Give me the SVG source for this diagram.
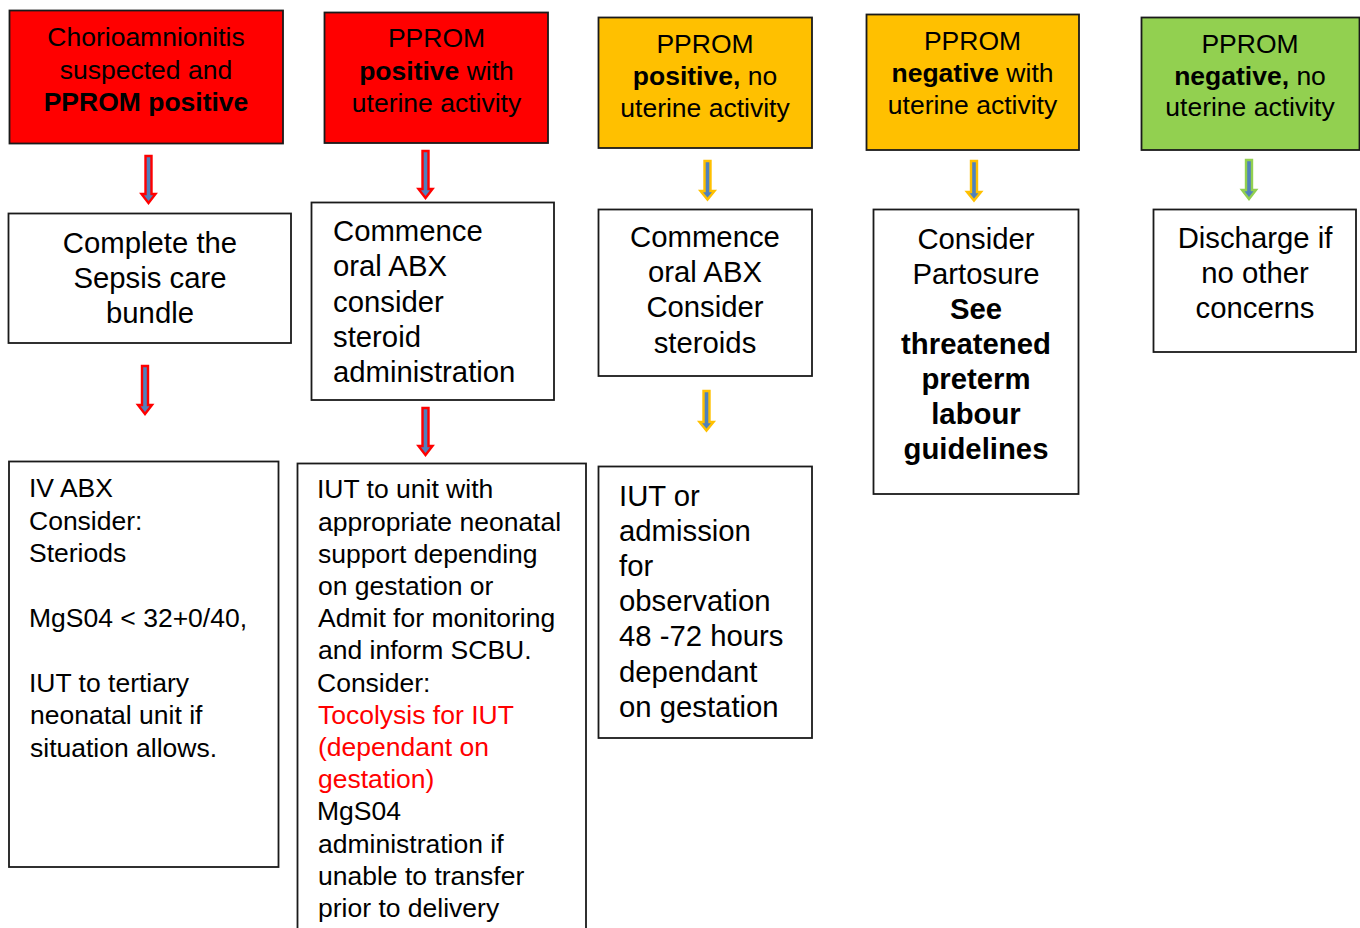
<svg xmlns="http://www.w3.org/2000/svg" width="1360" height="928" viewBox="0 0 1360 928">
<style>
text{font-family:"Liberation Sans",Arial,sans-serif;fill:#000}
.h{font-size:26.5px;text-anchor:middle}
.m{font-size:29.3px}
.c{text-anchor:middle}
.s{font-size:26.5px}
.b{font-weight:bold}
.box{stroke:#1a1a1a;stroke-width:1.8}
.red{fill:#FF0000}
.org{fill:#FFC000}
.grn{fill:#92D050}
.wht{fill:#FFFFFF}
.ar{fill:#4F81BD;stroke-width:2.4;stroke-linejoin:miter}
</style>
<rect width="1360" height="928" fill="#fff"/>

<g id="n1"><rect class="box red" x="9.5" y="10.5" width="273.5" height="133"/>
<text class="h" x="146" y="46">Chorioamnionitis</text>
<text class="h" x="146" y="78.5">suspected and</text>
<text class="h b" x="146" y="111">PPROM positive</text></g>

<g id="n2"><rect class="box red" x="324.5" y="12.5" width="223.5" height="130.5"/>
<text class="h" x="436.5" y="47">PPROM</text>
<text class="h" x="436.5" y="80"><tspan class="b">positive</tspan> with</text>
<text class="h" x="436.5" y="112">uterine activity</text></g>

<g id="n3"><rect class="box org" x="598.5" y="17.5" width="213.5" height="130.5"/>
<text class="h" x="705" y="53">PPROM</text>
<text class="h" x="705" y="85"><tspan class="b">positive,</tspan> no</text>
<text class="h" x="705" y="117">uterine activity</text></g>

<g id="n4"><rect class="box org" x="866.5" y="14.5" width="212.5" height="135.5"/>
<text class="h" x="972.5" y="50">PPROM</text>
<text class="h" x="972.5" y="82"><tspan class="b">negative</tspan> with</text>
<text class="h" x="972.5" y="114">uterine activity</text></g>

<g id="n5"><rect class="box grn" x="1141.5" y="17.5" width="218" height="132.5"/>
<text class="h" x="1250" y="53">PPROM</text>
<text class="h" x="1250" y="85"><tspan class="b">negative,</tspan> no</text>
<text class="h" x="1250" y="116">uterine activity</text></g>

<g id="n6"><rect class="box wht" x="8.5" y="213.5" width="282.5" height="129.5"/>
<text class="m c" x="150" y="252.5">Complete the</text>
<text class="m c" x="150" y="287.5">Sepsis care</text>
<text class="m c" x="150" y="322.5">bundle</text></g>

<g id="n7"><rect class="box wht" x="311.5" y="202.5" width="242.5" height="197.5"/>
<text class="m" x="333" y="241">Commence</text>
<text class="m" x="333" y="276">oral ABX</text>
<text class="m" x="333" y="312">consider</text>
<text class="m" x="333" y="347">steroid</text>
<text class="m" x="333" y="382">administration</text></g>

<g id="n8"><rect class="box wht" x="598.5" y="209.5" width="213.5" height="166.5"/>
<text class="m c" x="705" y="247">Commence</text>
<text class="m c" x="705" y="282">oral ABX</text>
<text class="m c" x="705" y="317">Consider</text>
<text class="m c" x="705" y="353">steroids</text></g>

<g id="n9"><rect class="box wht" x="873.5" y="209.5" width="205" height="284.5"/>
<text class="m c" x="976" y="248.5">Consider</text>
<text class="m c" x="976" y="283.5">Partosure</text>
<text class="m c b" x="976" y="318.5">See</text>
<text class="m c b" x="976" y="353.5">threatened</text>
<text class="m c b" x="976" y="388.5">preterm</text>
<text class="m c b" x="976" y="423.5">labour</text>
<text class="m c b" x="976" y="458.5">guidelines</text></g>

<g id="n10"><rect class="box wht" x="1153.5" y="209.5" width="202.5" height="142.5"/>
<text class="m c" x="1255" y="248">Discharge if</text>
<text class="m c" x="1255" y="283">no other</text>
<text class="m c" x="1255" y="318">concerns</text></g>

<g id="n11"><rect class="box wht" x="9" y="461.5" width="269.5" height="405.5"/>
<text class="s" x="29" y="497.3">IV ABX</text>
<text class="s" x="29" y="529.7">Consider:</text>
<text class="s" x="29" y="562.1">Steriods</text>
<text class="s" x="29" y="626.9">MgS04 &lt; 32+0/40,</text>
<text class="s" x="29" y="691.7">IUT to tertiary</text>
<text class="s" x="30" y="724.1">neonatal unit if</text>
<text class="s" x="30" y="756.5">situation allows.</text></g>

<g id="n12"><rect class="box wht" x="297.5" y="463.5" width="288.5" height="470"/>
<text class="s" x="317" y="498.3">IUT to unit with</text>
<text class="s" x="318" y="530.5">appropriate neonatal</text>
<text class="s" x="318" y="562.7">support depending</text>
<text class="s" x="318" y="594.9">on gestation or</text>
<text class="s" x="318" y="627.1">Admit for monitoring</text>
<text class="s" x="318" y="659.3">and inform SCBU.</text>
<text class="s" x="317" y="691.5">Consider:</text>
<text class="s" x="318" y="723.7" style="fill:#FF0000">Tocolysis for IUT</text>
<text class="s" x="318" y="755.9" style="fill:#FF0000">(dependant on</text>
<text class="s" x="318" y="788.1" style="fill:#FF0000">gestation)</text>
<text class="s" x="317" y="820.3">MgS04</text>
<text class="s" x="318" y="852.5">administration if</text>
<text class="s" x="318" y="884.7">unable to transfer</text>
<text class="s" x="318" y="916.9">prior to delivery</text></g>

<g id="n13"><rect class="box wht" x="598.5" y="466.5" width="213.5" height="271.5"/>
<text class="m" x="619" y="505.5">IUT or</text>
<text class="m" x="619" y="540.7">admission</text>
<text class="m" x="619" y="575.9">for</text>
<text class="m" x="619" y="611.1">observation</text>
<text class="m" x="619" y="646.3">48 -72 hours</text>
<text class="m" x="619" y="681.5">dependant</text>
<text class="m" x="619" y="716.7">on gestation</text></g>

<g id="connectors">
<path class="ar" stroke="#FF0000" d="M145.5,156 H151.5 V194 H155.5 L148.5,203 L141.5,194 H145.5 Z"/>
<path class="ar" stroke="#FF0000" d="M142,366 H148 V405 H152 L145,414 L138,405 H142 Z"/>
<path class="ar" stroke="#FF0000" d="M422.5,151 H428.5 V189 H432.5 L425.5,198 L418.5,189 H422.5 Z"/>
<path class="ar" stroke="#FF0000" d="M422.5,408 H428.5 V446 H432.5 L425.5,455 L418.5,446 H422.5 Z"/>
<path class="ar" stroke="#FFC000" d="M704.5,161 H710.5 V191 H714.5 L707.5,199.5 L700.5,191 H704.5 Z"/>
<path class="ar" stroke="#FFC000" d="M703.5,391 H709.5 V422 H713.5 L706.5,430.5 L699.5,422 H703.5 Z"/>
<path class="ar" stroke="#FFC000" d="M971,161 H977 V192 H981 L974,200.5 L967,192 H971 Z"/>
<path class="ar" stroke="#92D050" d="M1246,160 H1252 V190 H1256 L1249,199 L1242,190 H1246 Z"/>
</g>
</svg>
